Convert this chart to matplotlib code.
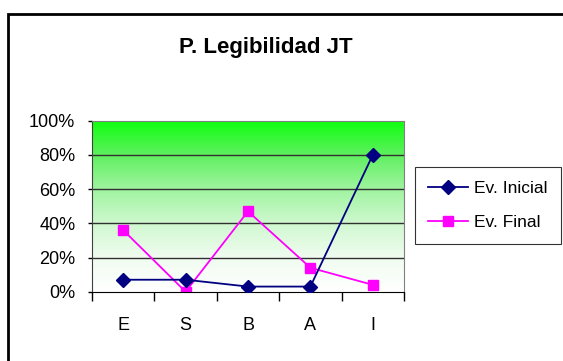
import numpy as np
import matplotlib
matplotlib.use('Agg')
import matplotlib.pyplot as plt
from matplotlib.patches import Rectangle
from matplotlib.colors import LinearSegmentedColormap
from matplotlib.ticker import FixedLocator, PercentFormatter

# data
categories = ['E', 'S', 'B', 'A', 'I']
ev_inicial = [7, 7, 3, 3, 80]
ev_final = [36, 0, 47, 14, 4]

plt.rcParams['font.family'] = ['Liberation Sans', 'DejaVu Sans']

fig = plt.figure(figsize=(5.63, 3.61), dpi=100)
ax = fig.add_axes([92 / 563, 1 - 291.7 / 361, 312 / 563, 171 / 361])

x = np.arange(len(categories))
ax.set_xlim(-0.5, len(categories) - 0.5)
ax.set_ylim(0, 100)

# green to white gradient background
cmap = LinearSegmentedColormap.from_list(
    'g', [(0, '#ffffff'), (0.2, '#f0fcf0'), (0.4, '#d0f8d0'),
          (0.6, '#a0f4a0'), (0.8, '#60f060'), (1.0, '#10ff10')])
grad = np.linspace(0, 1, 256).reshape(-1, 1)
ax.imshow(grad, cmap=cmap, origin='lower', aspect='auto',
          extent=[-0.5, len(categories) - 0.5, 0, 100], zorder=0)

for yv in [20, 40, 60, 80]:
    ax.axhline(yv, color='#303030', lw=1, zorder=1)

ax.plot(x, ev_inicial, color='#000080', marker='D', markersize=7, lw=1.3,
        label='Ev. Inicial', zorder=3)
ax.plot(x, ev_final, color='#ff00ff', marker='s', markersize=7, lw=1.3,
        label='Ev. Final', zorder=2)

ax.set_yticks([0, 20, 40, 60, 80, 100])
ax.yaxis.set_major_formatter(PercentFormatter(decimals=0))
ax.set_xticks(x)
ax.set_xticklabels(categories)
ax.xaxis.set_minor_locator(FixedLocator(np.arange(-0.5, len(categories), 1)))
ax.tick_params(axis='x', which='major', length=0, pad=18, labelsize=13)
ax.tick_params(axis='x', which='minor', length=6.5, width=1, direction='out')
ax.tick_params(axis='y', length=3, width=1, pad=9, labelsize=13)

for side in ['top', 'right']:
    ax.spines[side].set_color('#808080')
ax.spines['left'].set_color('#404040')
ax.spines['bottom'].set_color('black')

fig.text(266 / 563, 1 - 48 / 361, 'P. Legibilidad JT', ha='center', va='center',
         fontsize=16, fontweight='bold')

leg = fig.legend(loc='upper right', bbox_to_anchor=(561 / 563, 1 - 166.7 / 361),
                 frameon=True, fancybox=False, edgecolor='black', fontsize=12.5,
                 handlelength=2.3, handletextpad=0.3, borderpad=0.8, labelspacing=1.1,
                 borderaxespad=0)
leg.get_frame().set_linewidth(0.8)

# outer chart frame, running off the right and bottom edges
top = 1 - 14 / 361
fig.patches.append(Rectangle((8 / 563, -0.2), 1.2, top + 0.2,
                             transform=fig.transFigure, fill=False, lw=2, edgecolor='black'))

fig.savefig('out.png', dpi=100)
